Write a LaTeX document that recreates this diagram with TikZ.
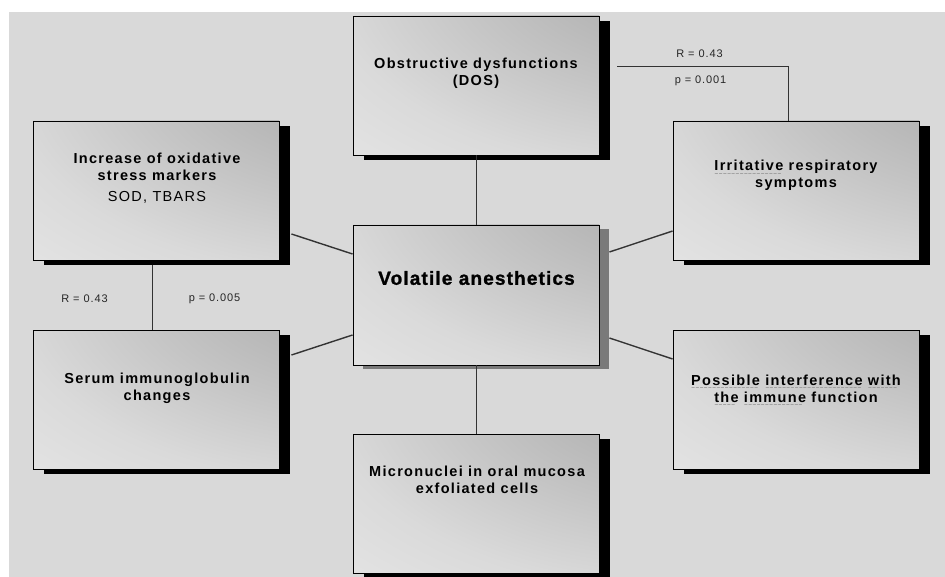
\documentclass[tikz,border=0pt]{standalone}
\usepackage{fontspec}
\setmainfont{Liberation Sans}
\newfontfamily\boxfont{Liberation Sans}[LetterSpace=9]
\newfontfamily\centfont{Liberation Sans}[LetterSpace=6,BoldFeatures={FakeBold=1.2}]
\newfontfamily\labfont{Liberation Sans}[LetterSpace=8]
\newfontfamily\squigfont{DejaVu Sans}
\usetikzlibrary{shadows,calc}
\definecolor{bg}{gray}{0.85}
\definecolor{shA}{gray}{0.655}
\definecolor{shB}{gray}{0.69}
\definecolor{shC}{gray}{0.77}
\definecolor{shD}{gray}{0.855}
\definecolor{shE}{gray}{0.895}
\definecolor{conncol}{gray}{0.2}
\pgfdeclareradialshading{boxshade}{\pgfpoint{48bp}{48bp}}{color(0bp)=(shA); color(20bp)=(shB); color(45bp)=(shC); color(70bp)=(shD); color(92bp)=(shE); color(400bp)=(shE)}
\newcommand\squig[1]{\setbox0=\hbox{#1}\rlap{\raisebox{-4.6pt}[0pt][0pt]{\color{gray}\squigfont\fontsize{5pt}{5pt}\selectfont\leaders\hbox{\char"223C}\hskip\wd0}}\box0\relax}
\tikzset{
  boxbase/.style={rectangle, draw=black, line width=0.9pt, minimum width=246pt, minimum height=139pt, inner sep=0pt, shade, shading=boxshade},
  box/.style={boxbase, drop shadow={shadow xshift=11pt, shadow yshift=-5pt, fill=black, opacity=1}},
  cbox/.style={boxbase, minimum height=140pt, drop shadow={shadow xshift=10pt, shadow yshift=-4pt, fill=black!52, opacity=1}},
  txt/.style={align=center, inner sep=0pt, text=black, font={\boxfont\bfseries\fontsize{14.5pt}{17pt}\selectfont}},
  ctxt/.style={align=center, inner sep=0pt, text=black, font={\centfont\bfseries\fontsize{19pt}{22pt}\selectfont}},
  lab/.style={inner sep=0pt, text=black!85, font={\labfont\fontsize{11pt}{13pt}\selectfont}},
  conn/.style={draw=conncol, line width=1.4pt},
  vconn/.style={draw=conncol, line width=1pt}
}
\begin{document}
\begin{tikzpicture}[x=1pt,y=-1pt]
\useasboundingbox (0,0) rectangle (945,577);
\fill[white] (0,0) rectangle (945,577);
\fill[bg] (9,12) rectangle (945,577);
% boxes
\node[box] (dos) at (476,85.5) {};
\node[box] (ox) at (156,190.5) {};
\node[box] (irr) at (796,190.5) {};
\node[cbox] (cen) at (476,295) {};
\node[box] (ser) at (156,399.5) {};
\node[box] (pos) at (796,399.5) {};
\node[box] (mic) at (476,503.5) {};
% texts
\node[txt] (tdos) at (476,73.5) {Obstructive dysfunctions\\(DOS)};
\node[txt] (tox) at (157,178.5) {Increase of oxidative\\stress markers\\[4pt]{\mdseries\fontsize{14.5pt}{17pt}\selectfont SOD, TBARS}};
\node[txt] (tirr) at (796,175.5) {\squig{Irritative} respiratory\\symptoms};
\node[ctxt] (tcen) at (476.5,278) {Volatile anesthetics};
\node[txt] (tser) at (157,388.5) {Serum immunoglobulin\\changes};
\node[txt] (tpos) at (796,388.5) {\squig{Possible} \squig{interference} \squig{with}\\\squig{the} \squig{immune} function};
\node[txt] (tmic) at (477,480) {Micronuclei in oral mucosa\\exfoliated cells};
% labels
\node[lab] (r1) at (699.5,54) {R = 0.43};
\node[lab] (p1) at (700.5,80.5) {p = 0.001};
\node[lab] (r2) at (84.5,299) {R = 0.43};
\node[lab] (p2) at (214.5,299) {p = 0.005};
% connectors
\draw[vconn] (dos.south) -- (cen.north);
\draw[vconn] (cen.south) -- (mic.north);
\draw[conn] ([shift={(12,43.5)}]ox.east) -- ([shift={(0,-41)}]cen.west);
\draw[conn] ([shift={(12,-44.5)}]ser.east) -- ([shift={(0,40)}]cen.west);
\draw[conn] ([shift={(10,-43)}]cen.east) -- ([shift={(0,40.5)}]irr.west);
\draw[conn] ([shift={(10,43)}]cen.east) -- ([shift={(0,-40.5)}]pos.west);
\draw[vconn] ([shift={(-4,4.5)}]ox.south) -- ([shift={(-4,0)}]ser.north);
\draw[vconn] ([shift={(18,-18.5)}]dos.east) -| ([shift={(-8,0)}]irr.north);
\end{tikzpicture}
\end{document}
